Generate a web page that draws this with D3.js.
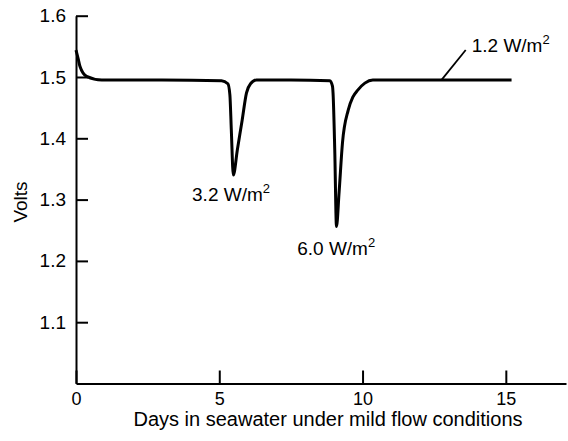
<!DOCTYPE html>
<html>
<head>
<meta charset="utf-8">
<script src="https://cdn.jsdelivr.net/npm/d3@7"></script>
<style>
  body { margin: 0; background: #fff; }
  svg { display: block; font-family: "Liberation Sans", Arial, Helvetica, sans-serif; }
</style>
</head>
<body>
<div id="chart"></div>
<script>
// cell voltage vs days
const days  = [0, 0.07, 0.14, 0.37, 0.9, 3.0, 5.08, 5.30, 5.37, 5.42, 5.49, 5.63, 5.80, 5.95, 6.09, 6.30,
               7.5, 8.86, 8.95, 8.97, 9.03, 9.09, 9.18, 9.30, 9.50, 9.66, 9.84, 10.08, 10.36, 12.5, 15.2];
const volts = [1.544, 1.531, 1.517, 1.501, 1.495, 1.495, 1.494, 1.489, 1.471, 1.414, 1.340, 1.381, 1.430, 1.474, 1.489, 1.495,
               1.495, 1.494, 1.485, 1.474, 1.381, 1.256, 1.311, 1.393, 1.446, 1.467, 1.479, 1.490, 1.495, 1.495, 1.495];

const xTicks = [0, 5, 10, 15];
const yTicks = [1.1, 1.2, 1.3, 1.4, 1.5, 1.6];

// annotation labels: text, anchor day, anchor volts
const labelText = ["3.2 W/m", "6.0 W/m", "1.2 W/m"];
const labelDay  = [4.05, 7.72, 13.81];
const labelVolt = [1.297, 1.210, 1.541];
// leader line for the 1.2 W/m2 label
const leaderDay  = [12.75, 13.6];
const leaderVolt = [1.495, 1.544];

const width = 568, height = 441;

const svg = d3.select('#chart').append('svg')
  .attr('width', width)
  .attr('height', height);

const x = d3.scaleLinear().domain([0, 17.1]).range([76, 566]);
const y = d3.scaleLinear().domain([1.0, 1.6]).range([383.5, 15.7]);

const xAxis = svg.append('g')
  .attr('transform', `translate(0,${y(1.0)})`)
  .call(d3.axisBottom(x).tickValues(xTicks).tickFormat(d3.format('d'))
    .tickSizeInner(-13).tickSizeOuter(0).tickPadding(9));

const yAxis = svg.append('g')
  .attr('transform', `translate(${x(0)},0)`)
  .call(d3.axisLeft(y).tickValues(yTicks).tickFormat(d3.format('.1f'))
    .tickSizeInner(-12).tickSizeOuter(0).tickPadding(10));

[xAxis, yAxis].forEach(g => {
  g.select('.domain').attr('stroke', '#000').attr('stroke-width', 2);
  g.selectAll('.tick line').attr('stroke', '#000').attr('stroke-width', 2);
  g.selectAll('.tick text').attr('fill', '#000')
    .attr('font-family', '"Liberation Sans", Arial, Helvetica, sans-serif');
});
xAxis.selectAll('.tick text').attr('font-size', 18);
yAxis.selectAll('.tick text').attr('font-size', 19);

const line = d3.line()
  .x((d, i) => x(days[i]))
  .y((d, i) => y(volts[i]))
  .curve(d3.curveMonotoneX);

svg.append('path')
  .datum(days)
  .attr('d', line)
  .attr('fill', 'none')
  .attr('stroke', '#000')
  .attr('stroke-width', 3)
  .attr('stroke-linejoin', 'round');

// axis titles
svg.append('text')
  .attr('x', 328).attr('y', 426)
  .attr('text-anchor', 'middle')
  .attr('font-size', 20)
  .text('Days in seawater under mild flow conditions');

svg.append('text')
  .attr('transform', 'translate(27,202) rotate(-90)')
  .attr('text-anchor', 'middle')
  .attr('font-size', 19)
  .text('Volts');

// annotations
labelText.forEach((t, i) => {
  const txt = svg.append('text')
    .attr('x', x(labelDay[i])).attr('y', y(labelVolt[i]))
    .attr('font-size', 19)
    .text(t);
  txt.append('tspan')
    .attr('font-size', 13)
    .attr('dy', -8)
    .text('2');
});

svg.append('line')
  .attr('x1', x(leaderDay[0])).attr('y1', y(leaderVolt[0]))
  .attr('x2', x(leaderDay[1])).attr('y2', y(leaderVolt[1]))
  .attr('stroke', '#000')
  .attr('stroke-width', 1.8);
</script>
</body>
</html>
